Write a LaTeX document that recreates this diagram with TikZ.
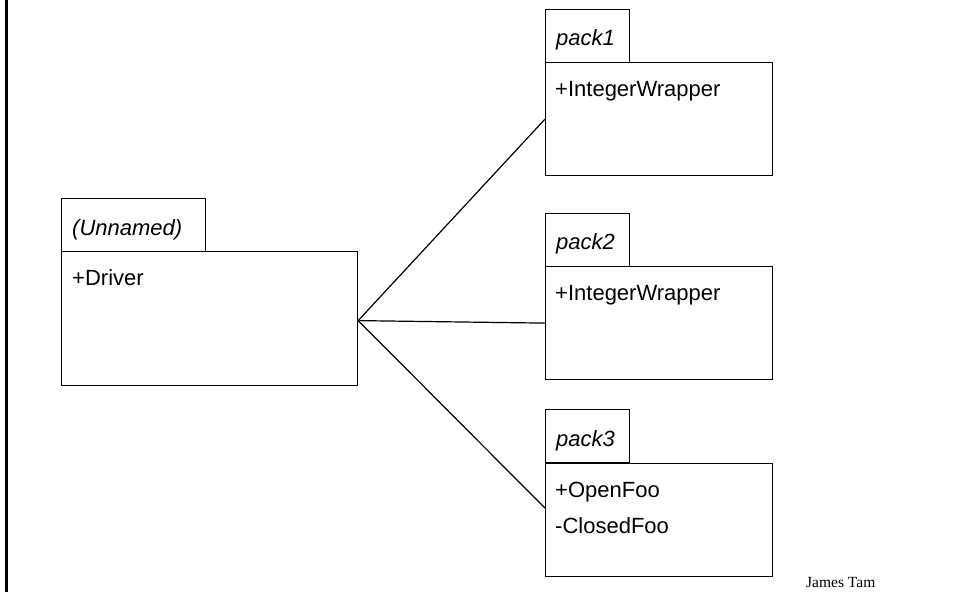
\documentclass[tikz,border=0pt]{standalone}
\usepackage{fontspec}
\setmainfont{Liberation Sans}
\newfontfamily\jtfont{Liberation Serif}
\begin{document}
\begin{tikzpicture}[x=1pt,y=-1pt,
  box/.style={draw,line width=1.2pt,rectangle,inner sep=0pt,anchor=north west},
  tab/.style={box,minimum width=84pt,minimum height=53pt},
  pbody/.style={box,minimum width=227pt,minimum height=113pt},
  lbl/.style={anchor=base west,inner sep=0pt,font=\fontsize{22}{26}\selectfont},
  ilbl/.style={lbl,font=\fontsize{22}{26}\selectfont\itshape},
  link/.style={line width=1.2pt}]
\useasboundingbox (0,0) rectangle (957,592);
\coordinate (lt) at (6.5,0);
\coordinate (lb) at (6.5,592);
\draw[line width=2.5pt] (lt) -- (lb);
% Unnamed package
\node[box,minimum width=144pt,minimum height=53pt] (ut) at (61,198) {};
\node[box,minimum width=296pt,minimum height=134pt] (u) at (61,251) {};
\node[ilbl] (utx) at (72,235) {(Unnamed)};
\node[lbl] (ux1) at (72,285) {+Driver};
% pack1
\node[tab] (p1t) at (545,9) {};
\node[pbody] (p1) at (545,62) {};
\node[ilbl] (p1tx) at (556,45) {pack1};
\node[lbl] (p1x1) at (555,96) {+IntegerWrapper};
% pack2
\node[tab] (p2t) at (545,213) {};
\node[pbody] (p2) at (545,266) {};
\node[ilbl] (p2tx) at (556,249) {pack2};
\node[lbl] (p2x1) at (555,300) {+IntegerWrapper};
% pack3
\node[tab] (p3t) at (545,409) {};
\node[pbody] (p3) at (545,463) {};
\node[ilbl] (p3tx) at (556,446) {pack3};
\node[lbl] (p3x1) at (555,497) {+OpenFoo};
\node[lbl] (p3x2) at (555,533) {-ClosedFoo};
% connectors
\coordinate (hub) at ([yshift=-2pt]u.east);
\draw[link] (hub) -- (p1.west);
\draw[link] (hub) -- (p2.west);
\draw[link] (hub) -- ([yshift=12pt]p3.west);
% footer
\node[anchor=base west,inner sep=0pt,font=\jtfont\fontsize{15.5}{18}\selectfont] (jt) at (806,587) {James Tam};
\end{tikzpicture}
\end{document}
